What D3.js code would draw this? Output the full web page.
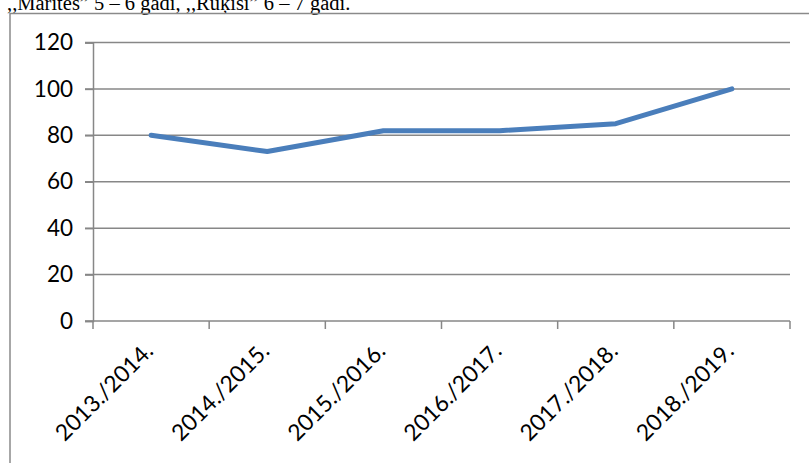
<!DOCTYPE html>
<html><head><meta charset="utf-8">
<script src="https://cdn.jsdelivr.net/npm/d3@7/dist/d3.min.js"></script>
<style>body{margin:0;background:#fff;overflow:hidden}</style>
</head><body>
<script>
const categories = ["2013./2014.","2014./2015.","2015./2016.","2016./2017.","2017./2018.","2018./2019."];
const values = [80, 73, 82, 82, 85, 100];
const yTicks = [0, 20, 40, 60, 80, 100, 120];
const headerText = ",,Mārītes\u201D 5 – 6 gadi, ,,Rūķīši\u201D 6 – 7 gadi.";

const W = 809, H = 463;
const svg = d3.select("body").append("svg").attr("width", W).attr("height", H);

// header text (cut off at the top, as in the reference)
svg.append("text").attr("x", 7).attr("y", 10)
  .attr("font-family", "'Liberation Serif', 'Times New Roman', serif")
  .attr("font-size", 20.5).attr("fill", "#000").text(headerText);

// chart frame
svg.append("rect").attr("x", 10).attr("y", 13.5).attr("width", 900).attr("height", 600)
  .attr("fill", "none").attr("stroke", "#8a8a8a").attr("stroke-width", 1.5);

const x = d3.scaleBand().domain(categories).range([93, 790]);
const y = d3.scaleLinear().domain([0, 120]).range([321, 42.5]);

const grid = "#878787";
svg.append("g").selectAll("line").data(yTicks).join("line")
  .attr("x1", 85).attr("x2", 790)
  .attr("y1", d => y(d)).attr("y2", d => y(d))
  .attr("stroke", grid).attr("stroke-width", 1.5);

const yAxis = svg.append("g").attr("transform", "translate(93,0)")
  .call(d3.axisLeft(y).tickValues(yTicks).tickSize(8).tickPadding(12));
yAxis.select(".domain").attr("stroke", grid).attr("stroke-width", 1.5);
yAxis.selectAll(".tick line").attr("stroke", grid).attr("stroke-width", 1.5);
yAxis.selectAll("text").attr("font-family", "Lato, 'Open Sans', sans-serif")
  .attr("font-size", 22.5).attr("fill", "#000");

const xBounds = categories.map(c => x(c)).concat([x.range()[1]]);
svg.append("g").selectAll("line").data(xBounds).join("line")
  .attr("x1", d => d).attr("x2", d => d).attr("y1", 321).attr("y2", 329)
  .attr("stroke", grid).attr("stroke-width", 1.5);

svg.append("g").selectAll("text").data(categories).join("text")
  .attr("transform", d => `translate(${x(d) + x.bandwidth()/2 - 8},${341}) rotate(-45)`)
  .attr("text-anchor", "end").attr("dy", "0.71em")
  .attr("font-family", "Lato, 'Open Sans', sans-serif").attr("font-size", 22.8)
  .attr("fill", "#000").text(d => d);

const line = d3.line().x((d, i) => x(categories[i]) + x.bandwidth()/2).y(d => y(d));
svg.append("path").datum(values).attr("d", line)
  .attr("fill", "none").attr("stroke", "#4a7ebb").attr("stroke-width", 5)
  .attr("stroke-linecap", "round").attr("stroke-linejoin", "round");
</script>
</body></html>
